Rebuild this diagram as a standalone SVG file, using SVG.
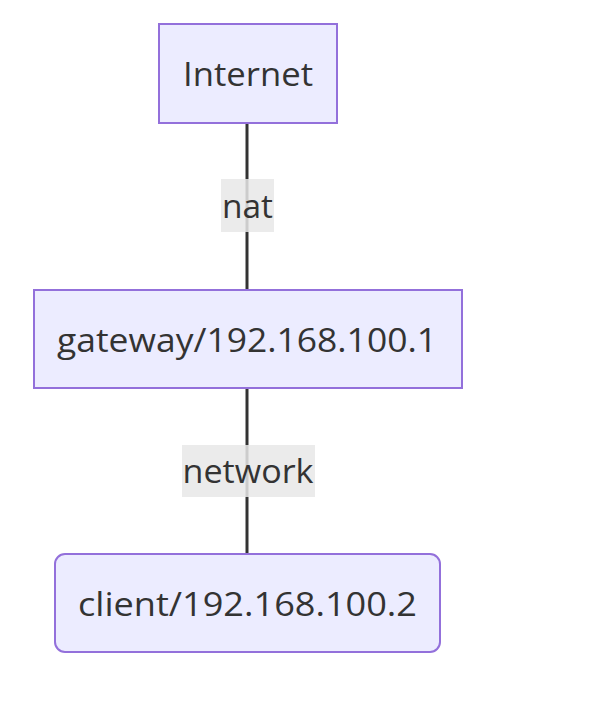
<svg xmlns="http://www.w3.org/2000/svg" width="612" height="713" viewBox="0 0 612 713">
<style>
.node rect{fill:#ECECFF;stroke:#9370DB;stroke-width:2}
.edge{stroke:#333333;stroke-width:3;fill:none}
.lbl-bg{fill:#e8e8e8;opacity:0.85}
text{font-family:"Open Sans","DejaVu Sans",sans-serif;font-size:32px;fill:#333333;text-anchor:middle}
</style>
<rect width="612" height="713" fill="#ffffff"/>
<g id="connectors">
<line class="edge" x1="247" y1="123" x2="247" y2="290"/>
<line class="edge" x1="247" y1="388" x2="247" y2="554"/>
</g>
<g id="edge-label-nat">
<rect class="lbl-bg" x="221" y="179" width="53" height="53"/>
<text x="247.5" y="218" textLength="51" lengthAdjust="spacingAndGlyphs">nat</text>
</g>
<g id="edge-label-network">
<rect class="lbl-bg" x="182" y="445" width="133" height="52"/>
<text x="248" y="483" textLength="131" lengthAdjust="spacingAndGlyphs">network</text>
</g>
<g id="node-internet" class="node">
<rect x="159" y="24" width="178" height="99"/>
<text x="248" y="86" textLength="130" lengthAdjust="spacingAndGlyphs">Internet</text>
</g>
<g id="node-gateway" class="node">
<rect x="34" y="290" width="428" height="98"/>
<text x="247" y="352" textLength="380" lengthAdjust="spacingAndGlyphs">gateway/192.168.100.1</text>
</g>
<g id="node-client" class="node">
<rect x="55" y="554" width="385" height="98" rx="10" ry="10"/>
<text x="247.5" y="616" textLength="339" lengthAdjust="spacingAndGlyphs">client/192.168.100.2</text>
</g>
</svg>
